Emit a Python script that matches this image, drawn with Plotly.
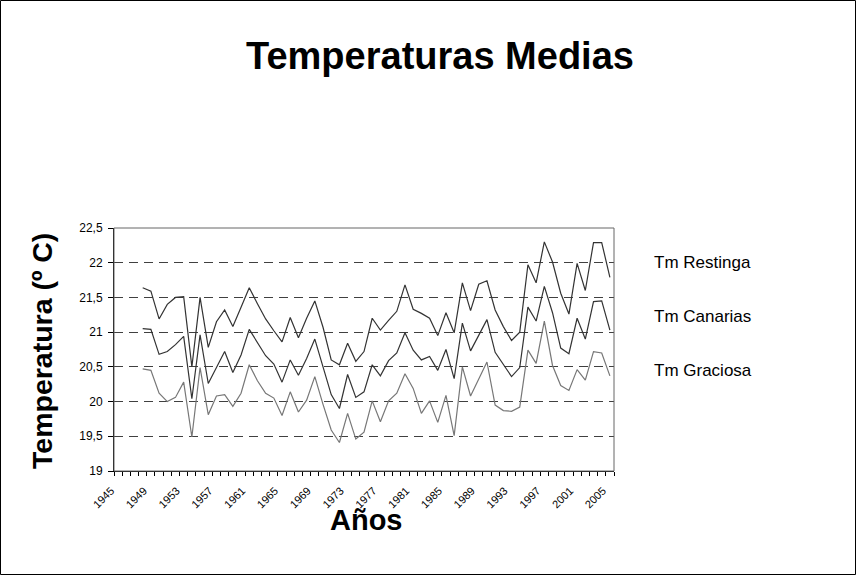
import plotly.graph_objects as go

years = list(range(1948, 2006))
restinga = [21.64, 21.59, 21.19, 21.40, 21.50, 21.51, 20.50, 21.50, 20.78, 21.15,
            21.32, 21.08, 21.36, 21.64, 21.41, 21.19, 21.02, 20.86, 21.21, 20.92,
            21.20, 21.45, 21.07, 20.60, 20.53, 20.84, 20.58, 20.72, 21.20, 21.03,
            21.17, 21.30, 21.68, 21.33, 21.27, 21.20, 20.95, 21.28, 20.99, 21.71,
            21.31, 21.69, 21.74, 21.32, 21.08, 20.88, 21.00, 21.97, 21.71, 22.30,
            22.01, 21.56, 21.26, 21.99, 21.60, 22.29, 22.29, 21.79]
canarias = [21.05, 21.04, 20.68, 20.72, 20.82, 20.94, 20.04, 20.96, 20.26, 20.50,
            20.72, 20.42, 20.67, 21.04, 20.84, 20.66, 20.54, 20.28, 20.60, 20.38,
            20.62, 20.90, 20.50, 20.10, 19.90, 20.39, 20.06, 20.14, 20.53, 20.37,
            20.59, 20.70, 20.99, 20.74, 20.60, 20.65, 20.45, 20.75, 20.33, 21.13,
            20.73, 20.95, 21.18, 20.71, 20.54, 20.36, 20.49, 21.36, 21.16, 21.66,
            21.28, 20.77, 20.69, 21.20, 20.90, 21.44, 21.45, 21.03]
graciosa = [20.47, 20.45, 20.12, 20.00, 20.06, 20.28, 19.49, 20.49, 19.81, 20.08,
            20.10, 19.93, 20.12, 20.53, 20.30, 20.12, 20.05, 19.80, 20.14, 19.85,
            20.02, 20.36, 19.96, 19.59, 19.41, 19.83, 19.46, 19.56, 20.01, 19.71,
            20.01, 20.12, 20.40, 20.19, 19.83, 20.01, 19.70, 20.09, 19.51, 20.50,
            20.08, 20.33, 20.57, 19.95, 19.87, 19.86, 19.92, 20.74, 20.55, 21.16,
            20.52, 20.23, 20.16, 20.46, 20.31, 20.72, 20.70, 20.37]
series_names = ["Tm Restinga", "Tm Canarias", "Tm Graciosa"]
series_colors = ["#333333", "#333333", "#777777"]
first_year, last_year = 1945, 2005
label_years = list(range(1945, 2006, 4))
y_ticks = [19, 19.5, 20, 20.5, 21, 21.5, 22, 22.5]

fig = go.Figure()
for name, vals, col in zip(series_names, [restinga, canarias, graciosa], series_colors):
    fig.add_trace(go.Scatter(x=years, y=vals, mode="lines", name=name,
                             line=dict(color=col, width=1.2), showlegend=False))

L, R, T, B = 114, 242, 228, 104
W, H = 856, 575
pw, ph = W - L - R, H - T - B

def px_x(px):
    return (px - L) / pw

def px_y(py):
    return (H - B - py) / ph

fig.update_layout(
    width=W, height=H,
    margin=dict(l=L, r=R, t=T, b=B, pad=0),
    paper_bgcolor="white", plot_bgcolor="white",
    separators=",.",
    font=dict(family="Liberation Sans, Arial", color="black"),
    title=dict(text="<b>Temperaturas Medias</b>", x=440 / W, xanchor="center",
               y=1 - 56 / H, yanchor="middle", font=dict(size=38, color="black")),
)
fig.update_xaxes(
    range=[first_year - 0.5, last_year + 0.5],
    tickmode="array", tickvals=label_years,
    ticktext=[str(v) for v in label_years],
    tickangle=-45, tickfont=dict(size=11), ticks="", ticklen=0,
    ticklabelstandoff=8, ticklabelshift=-7,
    minor=dict(tickmode="array", tickvals=[v - 0.5 for v in range(first_year, last_year + 2)],
               ticks="outside", ticklen=4, tickcolor="black", showgrid=False),
    showgrid=False, zeroline=False,
    showline=True, linecolor="black", linewidth=1,
)
fig.update_yaxes(
    range=[19, 22.5], tickmode="array", tickvals=y_ticks,
    tickfont=dict(size=12), ticks="outside", ticklen=5, tickcolor="black",
    ticklabelstandoff=3,
    showgrid=True, gridcolor="#404040", griddash="9px,6px", gridwidth=1,
    zeroline=False, showline=True, linecolor="black", linewidth=1,
)
# axis titles
fig.add_annotation(text="<b>Años</b>", xref="paper", yref="paper",
                   x=px_x(366), y=px_y(520), xanchor="center", yanchor="middle",
                   showarrow=False, font=dict(size=29, color="black"))
fig.add_annotation(text="<b>Temperatura (º C)</b>", xref="paper", yref="paper",
                   x=px_x(42), y=px_y(351), xanchor="center", yanchor="middle",
                   textangle=-90, showarrow=False, font=dict(size=28.5, color="black"))
# plot frame (top/right)
fig.add_shape(type="rect", xref="paper", yref="paper", x0=0, x1=1, y0=0, y1=1,
              line=dict(color="#666666", width=1), layer="above")
# outer chart border
fig.add_shape(type="rect", xref="paper", yref="paper",
              x0=px_x(0.5), x1=px_x(W - 0.5), y0=px_y(H - 0.5), y1=px_y(0.5),
              line=dict(color="black", width=1))
# legend as text
legend_y = [262, 316, 370]
for name, py in zip(series_names, legend_y):
    fig.add_annotation(text=name, xref="paper", yref="paper",
                       x=px_x(652), y=px_y(py), xanchor="left", yanchor="middle",
                       showarrow=False, font=dict(size=17, color="black"))

fig.write_html("out.html", config={"displayModeBar": False},
               post_script="document.body.style.margin='0';")
